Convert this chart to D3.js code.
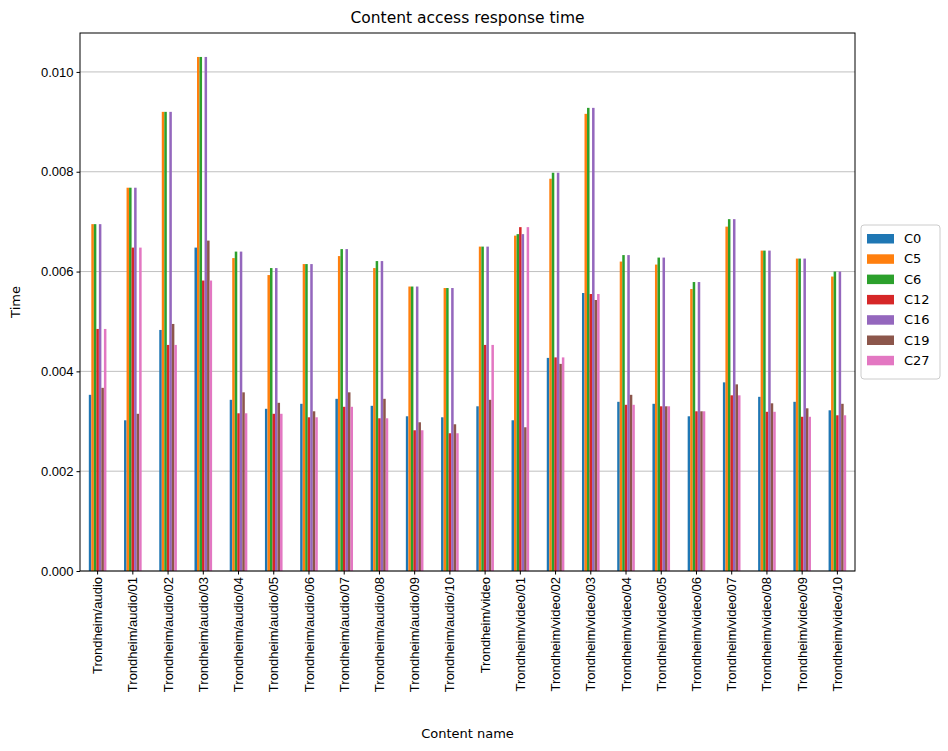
<!DOCTYPE html>
<html><head><meta charset="utf-8">
<script src="https://cdn.jsdelivr.net/npm/d3@7"></script>
<style>body{margin:0;background:#fff;font-family:"DejaVu Sans",sans-serif;}</style>
</head><body><div id="chart"></div>
<script>
// Content access response time, grouped bars per content item
var categories = ["Trondheim/audio","Trondheim/audio/01","Trondheim/audio/02","Trondheim/audio/03","Trondheim/audio/04","Trondheim/audio/05","Trondheim/audio/06","Trondheim/audio/07","Trondheim/audio/08","Trondheim/audio/09","Trondheim/audio/10","Trondheim/video","Trondheim/video/01","Trondheim/video/02","Trondheim/video/03","Trondheim/video/04","Trondheim/video/05","Trondheim/video/06","Trondheim/video/07","Trondheim/video/08","Trondheim/video/09","Trondheim/video/10"];
var seriesNames = ["C0","C5","C6","C12","C16","C19","C27"];
var colors = ["#1f77b4","#ff7f0e","#2ca02c","#d62728","#9467bd","#8c564b","#e377c2"];
var C0  = [.00353,.00302,.00483,.00648,.00343,.00325,.00335,.00345,.00331,.00310,.00308,.00330,.00302,.00427,.00557,.00339,.00335,.00310,.00378,.00349,.00339,.00322];
var C5  = [.00695,.00768,.00920,.01030,.00627,.00593,.00615,.00631,.00607,.00570,.00567,.00650,.00672,.00786,.00916,.00620,.00614,.00565,.00690,.00642,.00626,.00590];
var C6  = [.00695,.00768,.00920,.01030,.00640,.00607,.00615,.00645,.00621,.00570,.00567,.00650,.00675,.00798,.00928,.00633,.00628,.00579,.00705,.00642,.00626,.00600];
var C12 = [.00485,.00648,.00453,.00582,.00316,.00315,.00308,.00329,.00306,.00282,.00276,.00453,.00689,.00428,.00555,.00333,.00330,.00320,.00352,.00319,.00309,.00312];
var C16 = [.00695,.00768,.00920,.01030,.00640,.00607,.00615,.00645,.00621,.00570,.00567,.00650,.00675,.00798,.00928,.00633,.00628,.00579,.00705,.00642,.00626,.00600];
var C19 = [.00367,.00315,.00495,.00662,.00358,.00337,.00320,.00358,.00345,.00298,.00294,.00343,.00288,.00415,.00543,.00353,.00330,.00320,.00374,.00336,.00326,.00335];
var C27 = [.00485,.00648,.00453,.00582,.00316,.00315,.00308,.00329,.00306,.00282,.00276,.00453,.00689,.00428,.00555,.00333,.00330,.00320,.00352,.00319,.00309,.00312];
var series = [C0,C5,C6,C12,C16,C19,C27];
var yTicks = [0,0.002,0.004,0.006,0.008,0.010];

var W = 948, H = 751, m = {left:80, right:93, top:33, bottom:180};
var iw = W - m.left - m.right, ih = H - m.top - m.bottom;
var svg = d3.select("#chart").append("svg").attr("width", W).attr("height", H);
var g = svg.append("g").attr("transform","translate("+m.left+","+m.top+")");

var x0 = d3.scaleBand().domain(categories).range([0, iw]).paddingInner(0.5).paddingOuter(0.25);
var x1 = d3.scaleBand().domain(seriesNames).range([0, x0.bandwidth()]);
var y = d3.scaleLinear().domain([0, 0.01078]).range([ih, 0]);

// grid
g.append("g").selectAll("line").data(yTicks).enter().append("line")
  .attr("x1",0).attr("x2",iw).attr("y1",function(d){return y(d);}).attr("y2",function(d){return y(d);})
  .attr("stroke","#b0b0b0").attr("stroke-width",0.8);

seriesNames.forEach(function(s, si){
  g.append("g").attr("fill", colors[si]).selectAll("rect").data(series[si]).enter().append("rect")
    .attr("x", function(d,i){return x0(categories[i]) + x1(s);})
    .attr("width", x1.bandwidth())
    .attr("y", function(d){return y(d);})
    .attr("height", function(d){return ih - y(d);});
});

var xAxis = g.append("g").attr("transform","translate(0,"+ih+")").call(d3.axisBottom(x0).tickSizeOuter(0).tickSize(3.5));
xAxis.selectAll("text").attr("transform","rotate(-90)").attr("text-anchor","end")
  .attr("x",-6).attr("y",0).attr("dy","0.35em").style("font-size","13px").attr("fill","#000");
var yAxis = g.append("g").call(d3.axisLeft(y).tickValues(yTicks).tickFormat(d3.format(".3f")).tickSizeOuter(0).tickSize(3.5));
yAxis.selectAll("text").style("font-size","13px").attr("fill","#000");
g.selectAll(".domain").remove();
g.append("rect").attr("width",iw).attr("height",ih).attr("fill","none").attr("stroke","#000").attr("stroke-width",1);

svg.append("text").attr("x", m.left+iw/2).attr("y", 23).attr("text-anchor","middle").style("font-size","15.5px").text("Content access response time");
svg.append("text").attr("x", m.left+iw/2).attr("y", 738).attr("text-anchor","middle").style("font-size","13px").text("Content name");
svg.append("text").attr("transform","translate(20,"+(m.top+ih/2)+") rotate(-90)").attr("text-anchor","middle").style("font-size","13px").text("Time");

// legend
var lg = svg.append("g").attr("transform","translate(861,225)");
lg.append("rect").attr("width",79).attr("height",154).attr("rx",3).attr("fill","#fff").attr("stroke","#ccc");
seriesNames.forEach(function(s,i){
  lg.append("rect").attr("x",6).attr("y",9+i*20.3).attr("width",27).attr("height",9.5).attr("fill",colors[i]);
  lg.append("text").attr("x",43).attr("y",18+i*20.3).style("font-size","13px").text(s);
});
</script></body></html>
